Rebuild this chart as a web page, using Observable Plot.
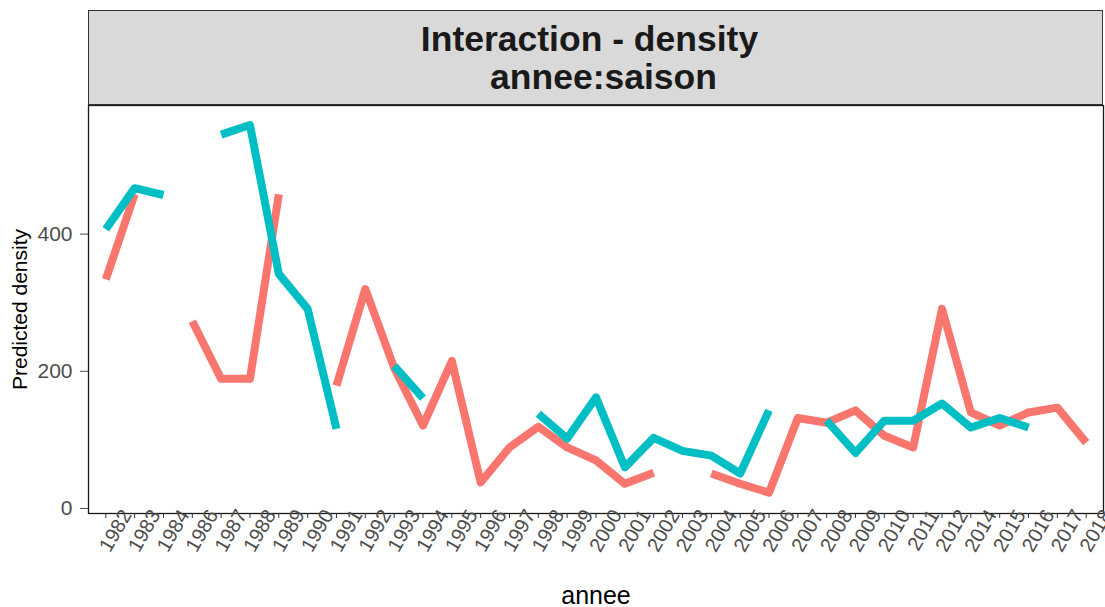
<!DOCTYPE html>
<html>
<head>
<meta charset="utf-8">
<script src="https://cdn.jsdelivr.net/npm/d3@7"></script>
<script src="https://cdn.jsdelivr.net/npm/@observablehq/plot@0.6"></script>
<style>
  body { margin: 0; background: #fff; font-family: "Liberation Sans", Arial, sans-serif; }
  #wrap { position: relative; width: 1105px; height: 607px; overflow: hidden; }
  #strip { position: absolute; left: 88px; top: 10px; width: 1013px; height: 93px; background: #d9d9d9; border: 1px solid #333; }
  #title { position: absolute; left: 82px; top: 20px; width: 1015px; text-align: center; font-weight: bold; font-size: 35.5px; line-height: 38px; color: #1a1a1a; }
  #title span { display: block; }
  #title .l2 { padding-left: 28px; }
</style>
</head>
<body>
<div id="wrap">
  <div id="chart"></div>
  <div id="strip"></div>
  <div id="title"><span>Interaction - density</span><span class="l2">annee:saison</span></div>
</div>
<script>
// ---- data ----
const years = ["1982","1983","1984","1986","1987","1988","1989","1990","1991","1992",
  "1993","1994","1995","1996","1997","1998","1999","2000","2001","2002",
  "2003","2004","2005","2006","2007","2008","2009","2010","2011","2012",
  "2014","2015","2016","2017","2018"];
const seasons = ["saison 1", "saison 2"];
const densitySaison1 = [334, 458, null, 273, 189, 189, 458, null, 179, 320,
  205, 121, 215, 38, 89, 119, 89, 70, 36, 52,
  null, 51, 36, 23, 132, 125, 143, 106, 89, 291,
  140, 121, 140, 147, 96];
const densitySaison2 = [407, 467, 457, null, 545, 559, 342, 291, 116, null,
  208, 161, null, null, null, 138, 102, 162, 60, 103,
  84, 77, 51, 143, null, 128, 81, 128, 128, 153,
  118, 132, 118, null, null];
const yTicks = [0, 200, 400];
const seriesColors = ["#F8766D", "#00BFC4"];

const rows = [];
[densitySaison1, densitySaison2].forEach((vals, s) => {
  years.forEach((yr, i) => rows.push({annee: yr, saison: seasons[s], density: vals[i]}));
});

const chart = Plot.plot({
  width: 1105,
  height: 607,
  marginTop: 105,
  marginLeft: 88,
  marginRight: 2,
  marginBottom: 94,
  style: { fontFamily: "'Liberation Sans', Arial, sans-serif", background: "white", color: "#1a1a1a" },
  x: { type: "point", domain: years, padding: 0.6, round: false, axis: null },
  y: { domain: [-7.3, 587.5], axis: null },
  color: { domain: seasons, range: seriesColors },
  marks: [
    Plot.lineY(rows, { x: "annee", y: "density", z: "saison", stroke: "saison",
      strokeWidth: 8, strokeLinejoin: "round", strokeLinecap: "butt" }),
    Plot.frame({ stroke: "#1a1a1a", strokeWidth: 1.3 }),
    Plot.axisY(yTicks, { tickSize: 8, tickPadding: 8, fontSize: 21, color: "#4d4d4d", label: null }),
    Plot.axisX({ tickSize: 5, tickFormat: () => "", color: "#333", label: null }),
    Plot.axisX({ tickSize: 0, tickPadding: 0, tickRotate: -60, textAnchor: "end", lineAnchor: "middle",
      dx: 21, dy: -2, fontSize: 20, color: "#4d4d4d", label: null }),
    Plot.text(["Predicted density"], { frameAnchor: "left", rotate: -90, textAnchor: "middle", lineAnchor: "middle",
      dx: -68, fontSize: 21, fill: "black" }),
    Plot.text(["annee"], { frameAnchor: "bottom", textAnchor: "middle", lineAnchor: "middle",
      dy: 82, fontSize: 25, fill: "black" })
  ]
});
document.getElementById("chart").appendChild(chart);
</script>
</body>
</html>
